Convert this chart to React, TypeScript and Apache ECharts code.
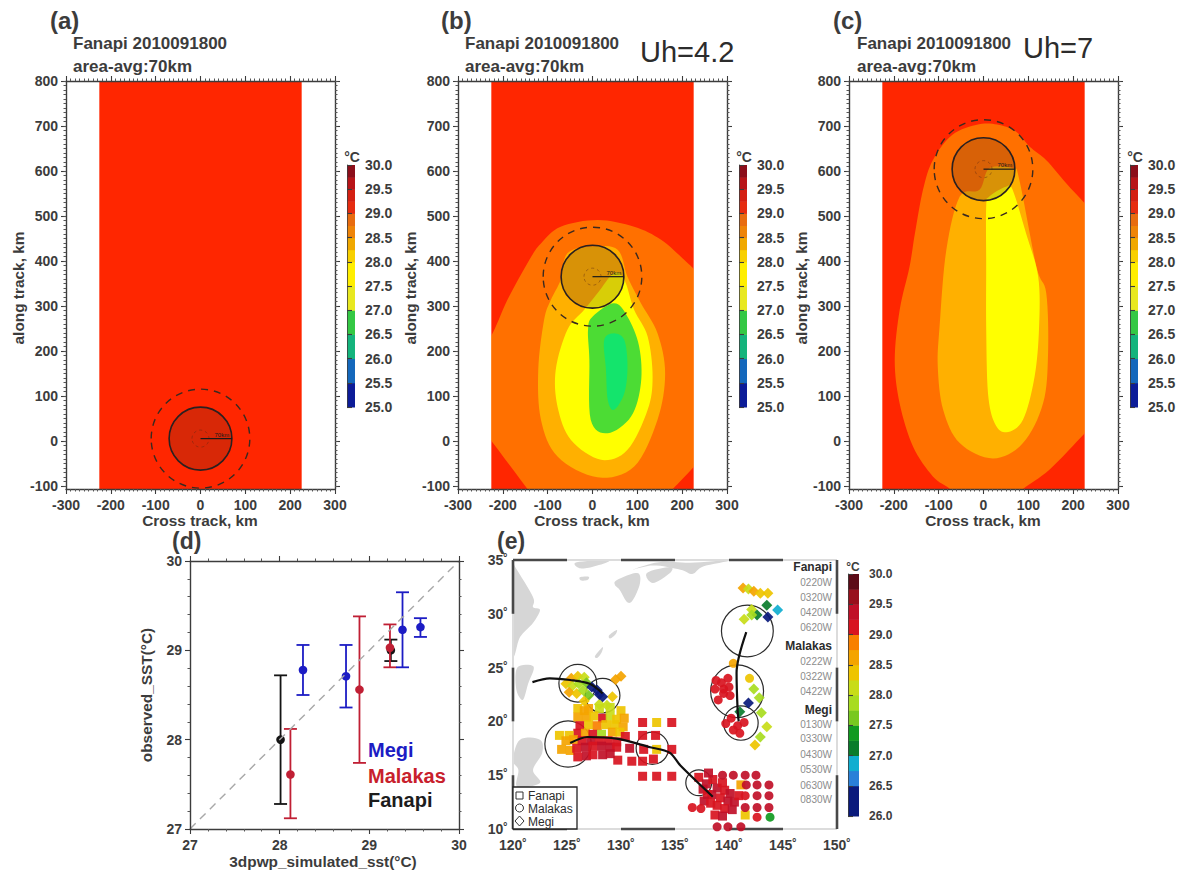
import React, { useEffect, useRef } from "react";
import * as echarts from "echarts";

const FONT = '"Liberation Sans", Arial, sans-serif';
const INK = "#3c3c3c";

// ---------- panels a,b,c data ----------
const crossTicksRange = [-300, 300];
const alongRange = [-107, 800];
const alongTicks = [-100, 0, 100, 200, 300, 400, 500, 600, 700, 800];
const alongMinorStep = 10;
const fieldEdge = [-226, 226];
const stormRadii = [70, 110, 19];
const stormCentreA = [0, 5];
const stormCentreB = [0, 365];
const stormCentreC = [0, 604];

const C_RED = "#ff2600";
const C_ORANGE = "#ff7000";
const C_GOLD = "#ffb000";
const C_YELLOW = "#ffff00";
const C_GREEN = "#4cdc34";
const C_MINT = "#14e46c";

const bOrange = [[11, 491], [93, 476], [153, 447], [205, 402], [226, 382], [262, 345], [300, 250], [300, -10], [262, -20], [227, -57], [179, -107], [150, -135], [-125, -135], [-145, -107], [-227, 2], [-262, 48], [-300, 60], [-300, 190], [-262, 200], [-227, 232], [-190, 313], [-141, 402], [-115, 439], [-71, 476]];
const bGold = [[-108, 269], [-121, 158], [-115, 47], [-78, -35], [11, -81], [93, -57], [145, 47], [162, 150], [145, 239], [108, 306], [78, 365], [56, 425], [0, 432], [-56, 417], [-71, 358], [-93, 313]];
const bYellow = [[-56, 247], [-82, 158], [-78, 76], [-48, 2], [19, -42], [78, -20], [123, 69], [134, 143], [123, 232], [93, 291], [71, 358], [48, 373], [11, 328], [-19, 291]];
const bGreen = [[-10, 247], [-7, 180], [-4, 47], [34, 17], [86, 54], [108, 128], [104, 210], [78, 276], [48, 306], [0, 276]];
const bMint = [[30, 158], [34, 91], [48, 69], [71, 106], [78, 165], [71, 224], [48, 239], [26, 224]];

const cOrange = [[-10, 704], [-70, 680], [-113, 624], [-135, 558], [-153, 461], [-165, 387], [-187, 291], [-198, 180], [-187, 83], [-157, -13], [-113, -79], [-75, -107], [-55, -135], [60, -135], [88, -107], [147, -64], [226, 17], [262, 55], [300, 100], [300, 430], [262, 490], [226, 528], [184, 573], [140, 624], [103, 654], [73, 687], [36, 702]];
const cGold = [[-53, 543], [-83, 424], [-98, 254], [-102, 165], [-90, 69], [-53, -5], [21, -39], [88, -5], [133, 84], [144, 195], [140, 328], [118, 387], [80, 580], [65, 606], [13, 606], [-9, 558]];
const cYellow = [[6, 521], [6, 387], [6, 254], [10, 106], [25, 39], [51, 19], [88, 47], [114, 143], [124, 254], [122, 365], [95, 461], [65, 558], [50, 565], [13, 543]];

// ---------- colour bars ----------
const topBarEdges = [25, 25.5, 26, 26.5, 27, 27.5, 28, 28.25, 28.5, 28.75, 29, 29.25, 29.5, 29.75, 30];
const topBarColors = ["#0c1c98", "#1468bc", "#14b47c", "#34c844", "#e8e820", "#ffee00", "#f8d000", "#f0a800", "#ee8408", "#e86c10", "#e62c10", "#d42012", "#b81418", "#8c0e1a"];
const topBarTicks = [25, 25.5, 26, 26.5, 27, 27.5, 28, 28.5, 29, 29.5, 30];

const eBarEdges = [26, 26.5, 26.75, 27, 27.25, 27.5, 27.75, 28, 28.25, 28.5, 28.75, 29, 29.25, 29.5, 29.75, 30];
const eBarColors = ["#0a1a7c", "#2a80d8", "#10aed0", "#0a7c2c", "#109a20", "#78c820", "#a8dc20", "#c8dc18", "#eec400", "#f4a400", "#f88000", "#d81420", "#c01028", "#98101c", "#5c0c18"];
const eBarTicks = [26, 30];

// ---------- panel d ----------
// [simulated, observed, low, high]
const fanapiPoints = [[28.01, 28.0, 27.28, 28.72], [29.24, 29.0, 28.88, 29.12]];
const malakasPoints = [[28.12, 27.61, 27.12, 28.12], [28.89, 28.56, 27.74, 29.38], [29.23, 29.03, 28.81, 29.29]];
const megiPoints = [[28.26, 28.78, 28.5, 29.06], [28.74, 28.71, 28.36, 29.06], [29.37, 29.23, 28.81, 29.65], [29.57, 29.26, 29.15, 29.36]];
const oneToOne = [[27, 27], [30, 30]];

// ---------- panel e ----------
const landCoast = [[120, 34.6], [120.2, 34.35], [121.85, 31.56], [121.85, 30.63], [122.5, 30.35], [121.85, 29.15], [120.65, 27.84], [120, 26.36]];
const landTaiwan = [[120.4, 25], [121.9, 25.1], [121.4, 23.5], [120.9, 22], [120.3, 23]];
const landLuzon = [[120.65, 18.3], [122.5, 18.3], [122.7, 17.06], [121.85, 15.48], [122.5, 14.28], [120.4, 13.9], [120.5, 15.48], [120, 16.4]];
const landKyushu = [[129.63, 33.14], [131.48, 33.8], [131.76, 32.86], [131.1, 31.28], [130.55, 31.1], [129.9, 32.2], [129.44, 32.68]];
const landShikoku = [[132.4, 33.8], [134.54, 34.35], [134.54, 33.8], [132.96, 32.86]];
const landHonshu = [[131.1, 34.1], [133.5, 34.8], [136.4, 34.75], [140, 34.95], [137.6, 34.4], [136.6, 33.7], [135.5, 34.1], [133, 34.5]];
const landKorea = [[125.9, 34.8], [128.7, 34.95], [128.5, 34.7], [126.85, 34.25], [126, 34.3]];
const landJeju = [[126.2, 33.4], [127, 33.45], [126.9, 33.15], [126.3, 33.1]];
const landAmami = [[128.9, 28.0], [129.6, 28.5], [129.5, 28.1], [129.0, 27.7]];
const landOkinawa = [[127.6, 26.1], [128.3, 26.9], [128.2, 26.4], [127.8, 25.9]];

const fanapiCells = [
  [132, 19.9, 29.2], [133.3, 19.9, 28.4], [134.7, 19.9, 29.2], [132, 18.7, 29.2], [133.2, 18.7, 29.2], [130.8, 17.5, 29.3], [132.1, 17.4, 29.2], [133.3, 17.4, 28.4], [134.7, 17.4, 29.2],
  [129.7, 16.4, 29.2], [131, 16.3, 29.2], [132, 16.3, 29.2], [133, 16.5, 29.1], [132, 14.9, 29.2], [133.3, 14.9, 29.2], [134.7, 14.9, 29.2],
  [126.0, 21.2, 28.3], [126.6, 21.0, 28.6], [127.0, 21.2, 28.5], [128.0, 21.2, 28.2], [129.0, 21.3, 28.2], [130.0, 21.0, 28.4], [126.0, 20.4, 28.6], [126.8, 20.4, 28.7], [127.5, 20.5, 28.4], [128.3, 20.3, 29.1], [129.0, 20.5, 28.2], [129.6, 20.2, 28.3], [130.3, 20.3, 28.6],
  [126.2, 19.6, 29.2], [127.0, 19.7, 28.4], [127.8, 19.6, 28.9], [128.6, 19.7, 28.4], [129.4, 19.7, 28.3], [130.2, 19.5, 28.5], [126.0, 18.9, 29.1], [126.7, 18.9, 28.6], [127.4, 18.8, 29.2], [128.2, 18.8, 27.9], [129.2, 19.0, 28.6], [129.9, 19.0, 28.4], [130.4, 18.6, 29.1],
  [124.3, 18.7, 28.3], [125.2, 18.7, 28.4], [125.6, 18.3, 28.5], [124.9, 18.2, 28.6], [126.4, 18.2, 29.2], [127.2, 18.2, 29.3], [128.0, 18.2, 29.2], [128.8, 18.2, 29.1], [129.6, 18.1, 29.2],
  [124.5, 17.4, 28.7], [125.3, 17.3, 28.6], [125.9, 17.5, 29.1], [126.7, 17.6, 29.3], [127.4, 17.7, 29.2], [128.2, 17.7, 29.3], [129.0, 17.6, 29.3], [129.6, 17.6, 29.2],
  [126.0, 16.7, 29.2], [126.8, 16.8, 29.3], [127.4, 16.9, 29.2], [128.3, 16.9, 29.3], [129.0, 17.0, 29.3],
  [137.2, 14.8, 29.2], [137.9, 14.2, 29.3], [138.5, 14.6, 29.2], [138.9, 13.8, 29.3], [139.6, 13.6, 29.2], [138.4, 13.2, 29.3], [139.2, 12.9, 29.2], [139.9, 12.6, 29.3], [140.5, 12.5, 29.3], [138.9, 12.2, 29.2], [139.6, 11.9, 29.2], [140.3, 11.8, 29.3], [138.7, 11.3, 29.2], [139.4, 11.2, 29.3], [141.1, 14.1, 28.5], [141.5, 11.3, 28.4],
  [137.6, 13.7, 29.3], [138.0, 13.2, 29.2], [137.7, 12.6, 29.3], [138.3, 12.4, 29.2], [140.9, 13.1, 29.2], [140.1, 13.3, 29.3], [139.4, 14.3, 29.2], [138.1, 15.2, 29.3],
];
const malakasCells = [
  [139.4, 15, 29.3], [140.4, 15, 29.3], [141.5, 15, 29.3], [142.5, 15, 29.3], [141.6, 14.1, 29.3], [142.6, 14.1, 29.3], [143.7, 14.1, 29.3], [141.5, 13.1, 29.2], [142.6, 13.1, 29.3], [143.7, 13.1, 29.3],
  [136.6, 12, 29.2], [137.4, 11.9, 29.2], [141.5, 12, 29.3], [142.6, 12, 29.3], [143.7, 12, 29.3], [142.6, 11.1, 29.2], [143.8, 11.1, 27.3], [138.9, 10.2, 29.3], [139.9, 10.2, 29.4], [141.1, 10.2, 29.4],
  [139, 22.0, 29.2], [139.5, 22.6, 29.1], [140, 23.2, 29.2], [138.7, 23.0, 29.1], [139.3, 23.6, 29.2], [139.9, 24.0, 29.1], [138.8, 23.8, 29.2], [140.4, 25.4, 28.5], [141.9, 24.0, 28.3], [139.5, 23.0, 29.2], [140.1, 22.4, 29.2],
  [139.7, 19.8, 29.2], [140.2, 20.3, 29.2], [140.8, 19.6, 29.1], [141.4, 19.9, 29.2], [140.4, 19.2, 29.2], [141.0, 18.9, 29.1],
];
const megiCells = [
  [141.3, 32.4, 28.5], [141.8, 32.3, 28.1], [142.3, 32.1, 28.5], [142.9, 31.9, 28.4], [143.6, 31.9, 28.4], [142.1, 30.4, 28.2], [143.5, 30.8, 27.2], [144.5, 30.35, 26.8], [143.6, 29.7, 26.4], [142.6, 29.9, 27.2], [142.1, 29.9, 27.9], [141.4, 29.5, 28.1],
  [142.3, 23, 27.9], [142.8, 22.2, 27.9], [141.8, 21.7, 26.3], [141, 20.9, 27.2], [143, 20.8, 27.9], [143.5, 19.5, 28.1], [142.9, 18.55, 27.9], [142.4, 17.8, 28.4],
  [124.9, 23.5, 28.4], [125.4, 24, 28.5], [126, 24.2, 28.4], [126.6, 24.1, 28.2], [125.5, 23.3, 28], [126.1, 23.5, 27.8], [126.8, 23.6, 27.6], [125.2, 22.7, 28.5], [125.9, 22.6, 28.4], [126.5, 22.9, 27.9], [127, 22.4, 27.7], [126.6, 21.9, 28.4], [128, 21.6, 28.1], [129.2, 22.3, 28.4], [130, 24.2, 28.5], [129.5, 23.9, 28.5], [128.7, 21.5, 28.1],
  [127.3, 23.2, 26.3], [127.8, 22.9, 26.3], [128.0, 22.5, 26.4], [128.3, 22.3, 26.2],
];
const fanapiTrack = [[138.5, 13], [135.5, 15.9], [134.5, 17.1], [132.7, 17.6], [129.6, 18.4], [126.9, 18.55], [125.3, 18]];
const malakasTrack = [[141.6, 28.3], [140.7, 24.5], [140.8, 21], [140.9, 20]];
const megiTrack = [[121.8, 23.65], [123.4, 24], [125.3, 23.85], [127.1, 23.5], [128.3, 22.6]];
// [lon, lat, radius in degrees]
const stormRings = [[141.7, 28.4, 2.4], [140.75, 22.8, 2.45], [141.1, 19.85, 1.6], [126, 23.55, 1.75], [128.3, 22.4, 1.6], [125.1, 17.9, 2.15], [132.9, 17.5, 1.5], [137.2, 14.3, 1.2]];
const darkFrame = [[120, 35, 125, 35], [130, 35, 135, 35], [140, 35, 145, 35], [120, 10, 125, 10], [130, 10, 135, 10], [140, 10, 145, 10], [120, 35, 120, 30], [120, 25, 120, 20], [120, 15, 120, 10], [150, 35, 150, 30], [150, 25, 150, 20], [150, 15, 150, 10]];
const lightFrame = [[125, 35, 130, 35], [135, 35, 140, 35], [145, 35, 150, 35], [125, 10, 130, 10], [135, 10, 140, 10], [145, 10, 150, 10], [120, 30, 120, 25], [120, 20, 120, 15], [150, 30, 150, 25], [150, 20, 150, 15]];

const dateNames = ["Fanapi", "Malakas", "Megi"];
const dateNameY = [567, 646, 710];
const dateLabels = ["0220W", "0320W", "0420W", "0620W", "0222W", "0322W", "0422W", "0130W", "0330W", "0430W", "0530W", "0630W", "0830W"];
const dateLabelY = [582, 597, 612, 627, 661, 676, 691, 724, 738, 754, 769, 785, 799];

function bandColor(v: number) {
  for (let i = 0; i < eBarColors.length; i++) if (v < eBarEdges[i + 1]) return eBarColors[i];
  return eBarColors[eBarColors.length - 1];
}

// closed Catmull-Rom curve through the projected vertices of a contour
function closedCurve(p: number[][]) {
  const n = p.length, out: number[][] = [];
  for (let i = 0; i < n; i++) {
    const a = p[(i - 1 + n) % n], b = p[i], c = p[(i + 1) % n], d = p[(i + 2) % n];
    for (let k = 0; k < 8; k++) {
      const t = k / 8, t2 = t * t, t3 = t2 * t;
      out.push([0, 1].map((j) => 0.5 * (2 * b[j] + (c[j] - a[j]) * t + (2 * a[j] - 5 * b[j] + 4 * c[j] - d[j]) * t2 + (3 * b[j] - a[j] - 3 * c[j] + d[j]) * t3)));
    }
  }
  return out;
}

function buildOption() {
  const grid: any[] = [], xAxis: any[] = [], yAxis: any[] = [], series: any[] = [], graphic: any[] = [];

  const line = { lineStyle: { color: INK, width: 1.4 }, onZero: false };
  const tick = (len: number) => ({ show: true, length: len, lineStyle: { color: INK, width: 1.1 } });
  const minor = (n: number) => ({ show: true, splitNumber: n, length: 2.5, lineStyle: { color: "#555", width: 1 } });

  function plot(g: number[], xr: number[], xi: number, xm: number, yr: number[], yi: number, ym: number, yTicks?: number[], yMinorStep?: number) {
    const gi = grid.length;
    grid.push({ left: g[0], top: g[1], width: g[2], height: g[3], show: false });
    const xi0 = xAxis.length, yi0 = yAxis.length;
    const base = { type: "value", gridIndex: gi, splitLine: { show: false }, z: 10, axisLine: line };
    const label = { color: INK, fontFamily: FONT, fontSize: 14, fontWeight: "bold" };
    xAxis.push({ ...base, min: xr[0], max: xr[1], interval: xi, position: "bottom", axisTick: tick(5), minorTick: minor(xm), axisLabel: { ...label, margin: 9 } });
    xAxis.push({ ...base, min: xr[0], max: xr[1], interval: xi, position: "top", axisTick: tick(5), minorTick: minor(xm), axisLabel: { show: false } });
    if (yTicks && yMinorStep) {
      const minorValues: number[] = [];
      for (let v = yTicks[0]; v <= yTicks[yTicks.length - 1]; v += yMinorStep) minorValues.push(v);
      const y = { ...base, min: yr[0], max: yr[1] };
      yAxis.push({ ...y, position: "left", axisTick: { ...tick(5), customValues: yTicks }, axisLabel: { ...label, margin: 8, customValues: yTicks } });
      yAxis.push({ ...y, position: "right", axisTick: { ...tick(5), customValues: yTicks }, axisLabel: { show: false } });
      ["left", "right"].forEach((position) => yAxis.push({
        ...y, position, axisLine: { show: false, onZero: false }, axisLabel: { show: false },
        axisTick: { show: true, length: 2.5, customValues: minorValues, lineStyle: { color: "#555", width: 1 } },
      }));
    } else {
      yAxis.push({ ...base, min: yr[0], max: yr[1], interval: yi, position: "left", axisTick: tick(5), minorTick: minor(ym), axisLabel: { ...label, margin: 8 } });
      yAxis.push({ ...base, min: yr[0], max: yr[1], interval: yi, position: "right", axisTick: tick(5), minorTick: minor(ym), axisLabel: { show: false } });
    }
    return { xAxisIndex: xi0, yAxisIndex: yi0 };
  }

  function poly(ax: any, pts: number[][], fill: string) {
    series.push({
      type: "custom", ...ax, coordinateSystem: "cartesian2d", clip: true, silent: true, data: pts, encode: { x: 0, y: 1 },
      renderItem: (p: any, api: any) => p.dataIndex !== 0 ? null : ({
        type: "polygon", shape: { points: closedCurve(pts.map((q) => api.coord(q))) }, style: { fill },
      }),
    });
  }

  function bandRect(ax: any, xs: number[], fill: string) {
    const d = [[xs[0], alongRange[0]], [xs[1], alongRange[1]]];
    series.push({
      type: "custom", ...ax, coordinateSystem: "cartesian2d", clip: true, silent: true, data: d, encode: { x: 0, y: 1 },
      renderItem: (p: any, api: any) => {
        if (p.dataIndex !== 0) return null;
        const a = api.coord(d[0]), b = api.coord(d[1]);
        return { type: "rect", shape: { x: a[0], y: b[1], width: b[0] - a[0], height: a[1] - b[1] }, style: { fill } };
      },
    });
  }

  function storm(ax: any, c: number[]) {
    const d = [c];
    series.push({
      type: "custom", ...ax, coordinateSystem: "cartesian2d", clip: true, silent: true, data: d, encode: { x: 0, y: 1 },
      renderItem: (_p: any, api: any) => {
        const o = api.coord(c);
        const s = (r: number) => api.size([r, r]);
        const [r0, r1, r2] = stormRadii.map(s);
        return {
          type: "group", children: [
            { type: "ellipse", shape: { cx: o[0], cy: o[1], rx: r0[0], ry: r0[1] }, style: { fill: "rgba(90,50,30,0.24)", stroke: "#2a2020", lineWidth: 1.6 } },
            { type: "ellipse", shape: { cx: o[0], cy: o[1], rx: r1[0], ry: r1[1] }, style: { fill: "none", stroke: "#3a2a20", lineWidth: 1.4, lineDash: [7, 6] } },
            { type: "ellipse", shape: { cx: o[0], cy: o[1], rx: r2[0], ry: r2[1] }, style: { fill: "none", stroke: "rgba(90,40,20,0.55)", lineWidth: 0.8, lineDash: [3, 3] } },
            { type: "line", shape: { x1: o[0], y1: o[1], x2: o[0] + r0[0], y2: o[1] }, style: { stroke: "#1a1a1a", lineWidth: 1.2 } },
            { type: "text", x: o[0] + 14, y: o[1] - 4, style: { text: "70km", font: `6px ${FONT}`, fill: "#1a1a1a", verticalAlign: "middle", textVerticalAlign: "middle" } },
          ],
        };
      },
    });
  }

  function colorBar(g: number[], edges: number[], colors: string[], ticks: number[], size: number) {
    const gi = grid.length;
    grid.push({ left: g[0], top: g[1], width: g[2], height: g[3], show: false });
    const xi = xAxis.length, yi = yAxis.length;
    xAxis.push({ type: "value", gridIndex: gi, min: 0, max: 1, show: false });
    yAxis.push({
      type: "value", gridIndex: gi, min: ticks[0], max: ticks[ticks.length - 1], interval: 0.5, position: "right", z: 10,
      splitLine: { show: false }, axisLine: { lineStyle: { color: INK, width: 0.8 } }, axisTick: tick(5),
      axisLabel: { color: INK, fontFamily: FONT, fontSize: size, fontWeight: "bold", margin: 10, formatter: (v: number) => v.toFixed(1) },
    });
    const d = colors.map((_, i) => [0, edges[i], edges[i + 1]]);
    series.push({
      type: "custom", xAxisIndex: xi, yAxisIndex: yi, coordinateSystem: "cartesian2d", silent: true, data: d, encode: { x: 0, y: [1, 2] },
      renderItem: (p: any, api: any) => {
        const a = api.coord([0, edges[p.dataIndex]]), b = api.coord([1, edges[p.dataIndex + 1]]);
        return { type: "rect", shape: { x: a[0], y: b[1], width: b[0] - a[0], height: a[1] - b[1] + 0.5 }, style: { fill: colors[p.dataIndex] } };
      },
    });
  }

  const text = (t: string, x: number, y: number, font: string, fill = INK, align = "left", rotation = 0) =>
    graphic.push({ type: "text", x, y, rotation, z: 100, silent: true, style: { text: t, x: 0, y: 0, font: `${font} ${FONT}`, fill, textAlign: align, align, verticalAlign: "middle", textVerticalAlign: "middle" } });

  // ----- panels a,b,c -----
  const panels: any[] = [
    { left: 66, bar: 347, label: "(a)", lx: 50, tx: 73, c: stormCentreA, layers: [] },
    { left: 458, bar: 739, label: "(b)", lx: 441, tx: 465, c: stormCentreB, layers: [[bOrange, C_ORANGE], [bGold, C_GOLD], [bYellow, C_YELLOW], [bGreen, C_GREEN], [bMint, C_MINT]] },
    { left: 849, bar: 1130, label: "(c)", lx: 833, tx: 857, c: stormCentreC, layers: [[cOrange, C_ORANGE], [cGold, C_GOLD], [cYellow, C_YELLOW]] },
  ];
  panels.forEach((pn) => {
    const ax = plot([pn.left, 81, 269, 408], crossTicksRange, 100, 10, alongRange, 100, 10, alongTicks, alongMinorStep);
    bandRect(ax, fieldEdge, C_RED);
    pn.layers.forEach((l: any) => poly(ax, l[0], l[1]));
    bandRect(ax, [crossTicksRange[0], fieldEdge[0]], "#ffffff");
    bandRect(ax, [fieldEdge[1], crossTicksRange[1]], "#ffffff");
    storm(ax, pn.c);
    colorBar([pn.bar, 165, 8, 242], topBarEdges, topBarColors, topBarTicks, 14);
    text(pn.label, pn.lx, 20, "bold 24px");
    text("Fanapi 2010091800", pn.tx, 43, "bold 17px");
    text("area-avg:70km", pn.tx, 66, "bold 17px");
    text("°C", pn.bar + 5, 157, "bold 14px", INK, "center");
    text("Cross track, km", pn.left + 134, 520, "bold 15.4px", INK, "center");
    text("along track, km", pn.left - 48, 288, "bold 15.4px", INK, "center", Math.PI / 2);
  });
  text("Uh=4.2", 640, 52, "29px", "#2c2c2c");
  text("Uh=7", 1023, 48, "29px", "#2c2c2c");

  // ----- panel d -----
  const dAx = plot([190, 561, 269, 268], [27, 30], 1, 5, [27, 30], 1, 5);
  series.push({ type: "line", ...dAx, data: oneToOne, showSymbol: false, silent: true, lineStyle: { color: "#a8a8a8", width: 1.4, type: [8, 6] } });
  const bars = (pts: number[][], color: string) => series.push({
    type: "custom", ...dAx, coordinateSystem: "cartesian2d", silent: true, data: pts, encode: { x: 0, y: [1, 2, 3] },
    renderItem: (p: any, api: any) => {
      const v = pts[p.dataIndex];
      const c = api.coord([v[0], v[1]]), lo = api.coord([v[0], v[2]]), hi = api.coord([v[0], v[3]]);
      const st = { stroke: color, lineWidth: 1.8 };
      return {
        type: "group", children: [
          { type: "line", shape: { x1: c[0], y1: lo[1], x2: c[0], y2: hi[1] }, style: st },
          { type: "line", shape: { x1: c[0] - 6.5, y1: lo[1], x2: c[0] + 6.5, y2: lo[1] }, style: st },
          { type: "line", shape: { x1: c[0] - 6.5, y1: hi[1], x2: c[0] + 6.5, y2: hi[1] }, style: st },
          { type: "circle", shape: { cx: c[0], cy: c[1], r: 4.3 }, style: { fill: color } },
        ],
      };
    },
  });
  bars(fanapiPoints, "#141414");
  bars(malakasPoints, "#c01f34");
  bars(megiPoints, "#1c1cc4");
  text("(d)", 172, 541, "bold 23px");
  text("Megi", 368, 750, "bold 20px", "#1c1cc4");
  text("Malakas", 368, 776, "bold 20px", "#c8202c");
  text("Fanapi", 368, 800, "bold 20px", "#1c1c1c");
  text("3dpwp_simulated_sst(°C)", 323, 861, "bold 15.4px", INK, "center");
  text("observed_SST(°C)", 146, 695, "bold 15.4px", INK, "center", Math.PI / 2);

  // ----- panel e -----
  const gi = grid.length;
  grid.push({ left: 513, top: 560, width: 324, height: 269, show: false });
  const eAx = { xAxisIndex: xAxis.length, yAxisIndex: yAxis.length };
  xAxis.push({
    type: "value", gridIndex: gi, min: 120, max: 150, interval: 5, splitLine: { show: false }, axisLine: { show: false }, axisTick: { show: false },
    axisLabel: { color: INK, fontFamily: FONT, fontSize: 14, fontWeight: "bold", margin: 9, formatter: (v: number) => `${v}˚` },
  });
  yAxis.push({
    type: "value", gridIndex: gi, min: 10, max: 35, interval: 5, splitLine: { show: false }, axisLine: { show: false }, axisTick: { show: false },
    axisLabel: { color: INK, fontFamily: FONT, fontSize: 14, fontWeight: "bold", margin: 5, formatter: (v: number) => `${v}˚` },
  });
  [landCoast, landTaiwan, landLuzon, landKyushu, landShikoku, landHonshu, landKorea, landJeju, landAmami, landOkinawa].forEach((l) => poly(eAx, l, "#d6d6d6"));
  const segs = (list: number[][], stroke: string, lineWidth: number) => series.push({
    type: "custom", ...eAx, coordinateSystem: "cartesian2d", clip: false, silent: true, data: list, encode: { x: [0, 2], y: [1, 3] },
    renderItem: (p: any, api: any) => {
      const s = list[p.dataIndex];
      const a = api.coord([s[0], s[1]]), b = api.coord([s[2], s[3]]);
      return { type: "line", shape: { x1: a[0], y1: a[1], x2: b[0], y2: b[1] }, style: { stroke, lineWidth } };
    },
  });
  segs(lightFrame, "#dcdcdc", 2);
  segs(darkFrame, "#484848", 2.6);
  const scat = (data: number[][], symbol: string, symbolSize: number) => series.push({
    type: "scatter", ...eAx, data, symbol, symbolSize, silent: true, clip: false,
    itemStyle: { color: (p: any) => bandColor(p.value[2]), opacity: 0.92 },
  });
  scat(fanapiCells, "rect", 9);
  scat(malakasCells, "circle", 9);
  scat(megiCells, "diamond", 11);
  [fanapiTrack, malakasTrack, megiTrack].forEach((t) => series.push({
    type: "line", ...eAx, data: t, showSymbol: false, silent: true, smooth: 0.3, lineStyle: { color: "#101010", width: 2.2 },
  }));
  series.push({
    type: "custom", ...eAx, coordinateSystem: "cartesian2d", clip: false, silent: true, data: stormRings, encode: { x: 0, y: 1 },
    renderItem: (p: any, api: any) => {
      const s = stormRings[p.dataIndex];
      const c = api.coord([s[0], s[1]]), r = api.size([s[2], s[2]]);
      return { type: "ellipse", shape: { cx: c[0], cy: c[1], rx: r[0], ry: r[1] }, style: { fill: "none", stroke: "#2c2c2c", lineWidth: 1.2 } };
    },
  });
  colorBar([848, 574, 11, 242], eBarEdges, eBarColors, eBarTicks, 12);
  text("(e)", 497, 541, "bold 23px");
  text("°C", 853, 567, "bold 12px", INK, "center");
  dateNames.forEach((t, i) => text(t, 832, dateNameY[i], "bold 12px", "#2c2c2c", "right"));
  dateLabels.forEach((t, i) => text(t, 832, dateLabelY[i], "10px", "#8c8c8c", "right"));

  // legend of panel e
  graphic.push({ type: "rect", z: 90, silent: true, shape: { x: 513, y: 787, width: 64, height: 42 }, style: { fill: "#fff", stroke: "#222", lineWidth: 1.3 } });
  graphic.push({ type: "rect", z: 95, silent: true, shape: { x: 516, y: 792, width: 7, height: 7 }, style: { fill: "#fff", stroke: "#333", lineWidth: 1 } });
  graphic.push({ type: "circle", z: 95, silent: true, shape: { cx: 519.5, cy: 808, r: 4 }, style: { fill: "#fff", stroke: "#333", lineWidth: 1 } });
  graphic.push({ type: "polygon", z: 95, silent: true, shape: { points: [[519.5, 816], [524, 821], [519.5, 826], [515, 821]] }, style: { fill: "#fff", stroke: "#333", lineWidth: 1 } });
  text("Fanapi", 528, 796, "12px", "#2c2c2c");
  text("Malakas", 528, 809, "12px", "#2c2c2c");
  text("Megi", 528, 822, "12px", "#2c2c2c");

  return { animation: false, backgroundColor: "#ffffff", grid, xAxis, yAxis, series, graphic: { elements: graphic } };
}

export default function App() {
  const ref = useRef<HTMLDivElement>(null);
  useEffect(() => {
    const chart = echarts.init(ref.current!, undefined, { renderer: "svg" });
    chart.setOption(buildOption() as any);
    return () => chart.dispose();
  }, []);
  return <div ref={ref} style={{ position: "absolute", left: 0, top: 0, width: 1184, height: 871 }} />;
}
